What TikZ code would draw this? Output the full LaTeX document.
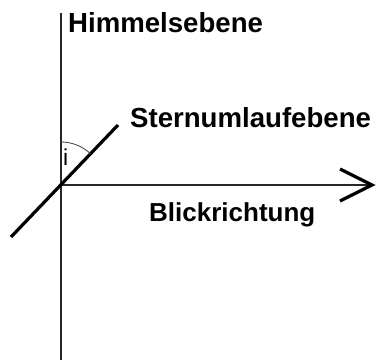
\documentclass[tikz,border=0pt]{standalone}
\usepackage{fontspec}
\setmainfont{Liberation Sans}
\begin{document}
\begin{tikzpicture}[x=1pt,y=-1pt,
  thinline/.style={line width=1.4pt,black!85},
  thickline/.style={line width=3.2pt,black},
  lbl/.style={inner sep=0pt,anchor=base west,font=\fontsize{27.6}{30}\selectfont\bfseries},
  anglelbl/.style={inner sep=0pt,anchor=base west,font=\fontsize{23}{26}\selectfont}]
\useasboundingbox[fill=white] (0,0) rectangle (376,360);
\coordinate (O) at (61,185);
\coordinate (top) at (61,13);
\coordinate (bot) at (61,360);
\coordinate (right) at (371,185);
\coordinate (chA) at (340,169);
\coordinate (chB) at (372,185);
\coordinate (chC) at (340,201);
\coordinate (dA) at (11,237);
\coordinate (dB) at (118,125);
\draw[thinline] (top) -- (bot);
\draw[thinline] (O) -- (right);
\draw[thickline,line join=miter] (chA) -- (chB) -- (chC);
\draw[thickline] (dA) -- (dB);
\draw[line width=0.8pt,black!75] (61,142) arc[start angle=-90,end angle=-46,radius=43];
\node[lbl] (himmel) at (68,32) {Himmelsebene};
\node[lbl] (stern) at (130,127) {Sternumlaufebene};
\node[lbl,font=\fontsize{26}{30}\selectfont\bfseries] (blick) at (149,221) {Blickrichtung};
\node[anglelbl] (i) at (63,165) {i};
\end{tikzpicture}
\end{document}
